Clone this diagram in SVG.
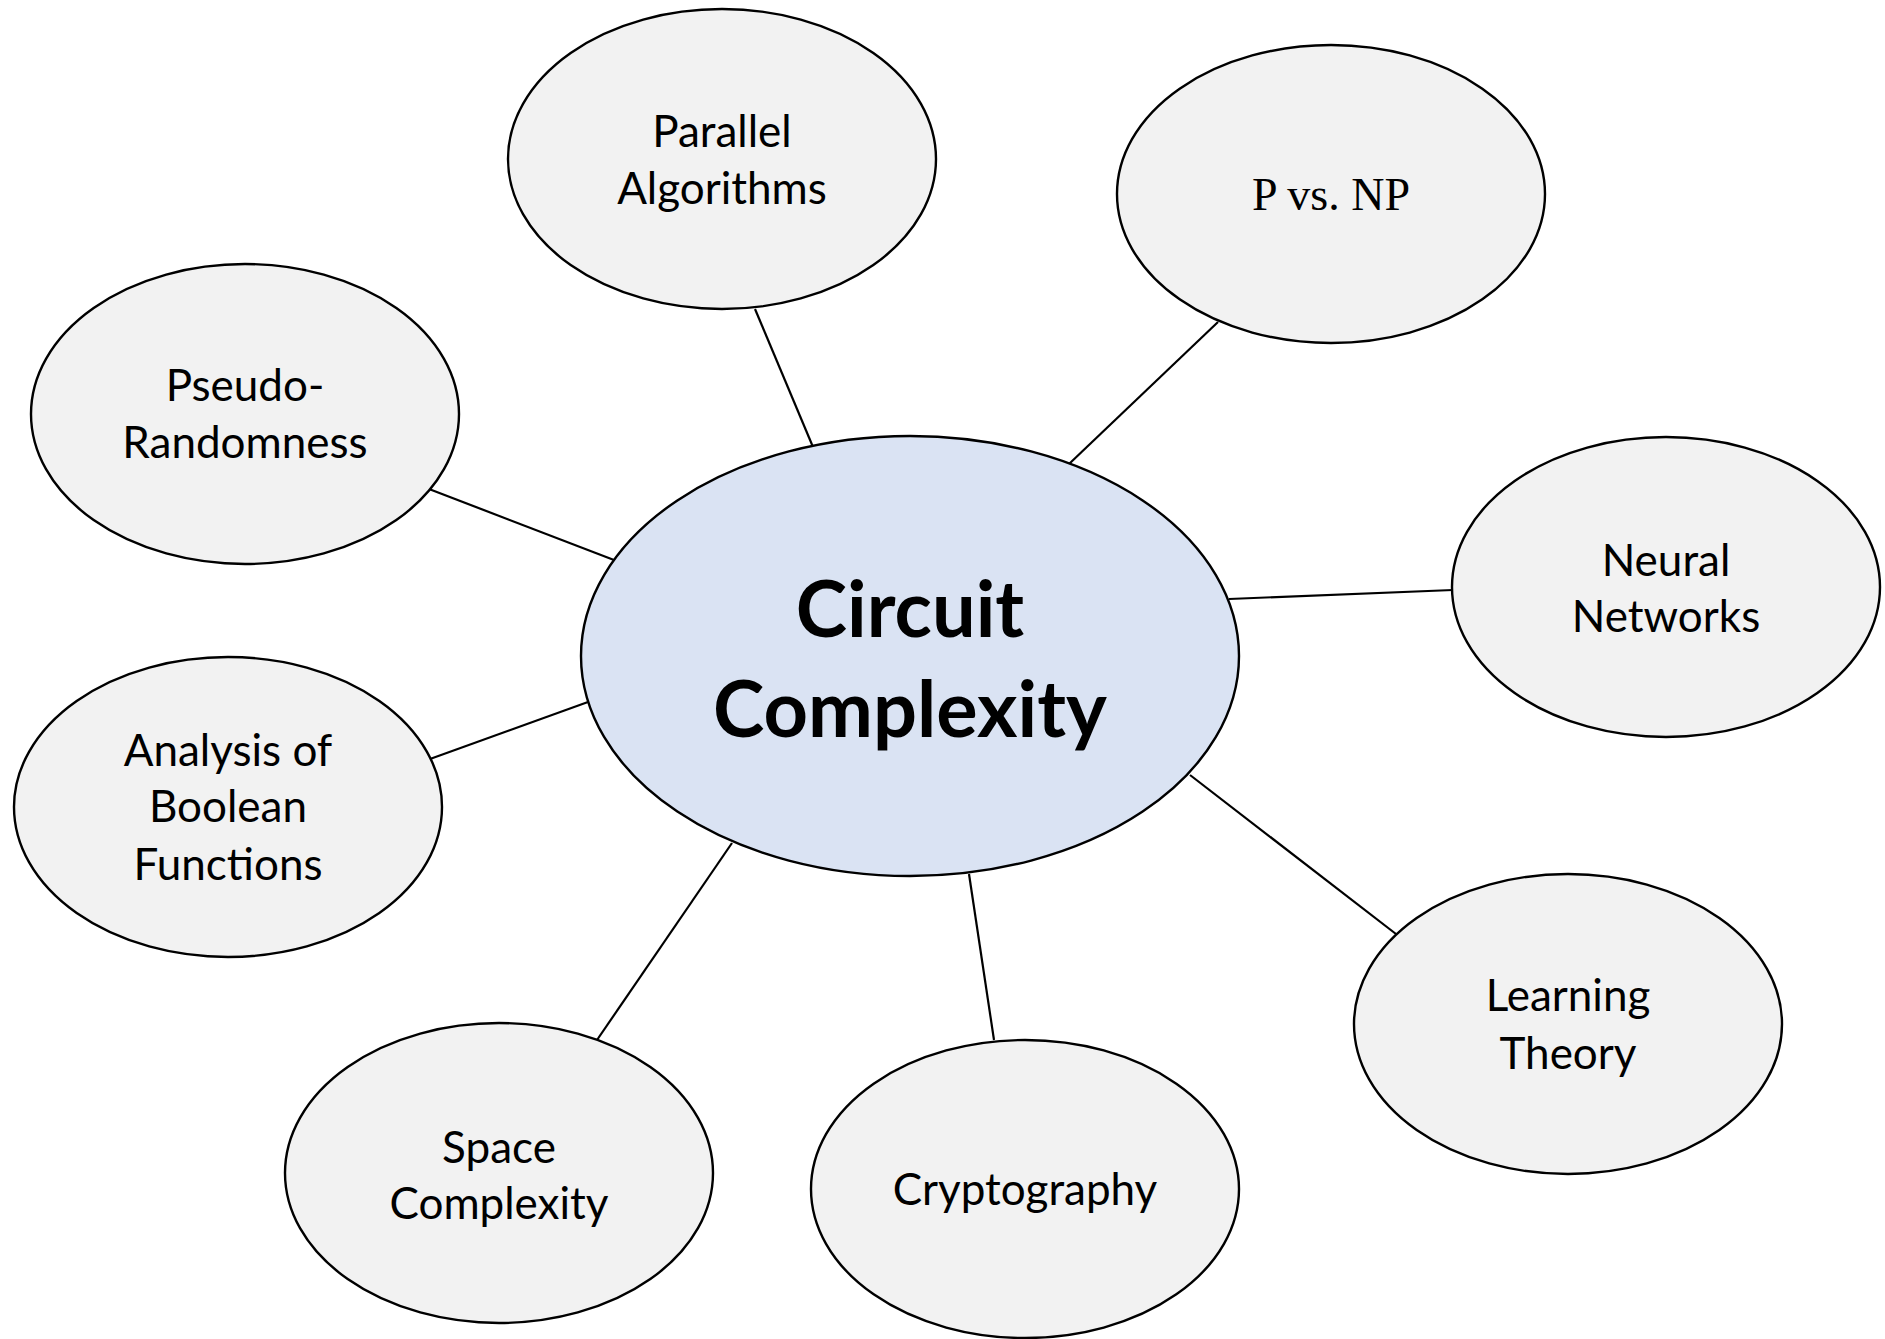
<svg xmlns="http://www.w3.org/2000/svg" width="1885" height="1339" viewBox="0 0 1885 1339">
  <style>
    .bubble { fill: #f2f2f2; stroke: #000; stroke-width: 2.4; }
    .hub { fill: #dae3f3; stroke: #000; stroke-width: 2.4; }
    .link { stroke: #000; stroke-width: 2.2; fill: none; }
    .lbl { font-family: Lato, "Open Sans", "Liberation Sans", sans-serif; font-size: 44px; fill: #000; text-anchor: middle; }
    .serif { font-family: "Liberation Serif", "DejaVu Serif", serif; font-size: 46px; fill: #000; text-anchor: middle; }
    .title { font-family: Lato, "Open Sans", "Liberation Sans", sans-serif; font-size: 77.5px; font-weight: bold; fill: #000; text-anchor: middle; }
  </style>
  <rect width="1885" height="1339" fill="#fff"/>

  <!-- spokes from the hub to each topic -->
  <g id="connectors">
    <line class="link" x1="755" y1="309" x2="813" y2="447"/>
    <line class="link" x1="1218" y1="322" x2="1069" y2="464"/>
    <line class="link" x1="429" y1="489" x2="614" y2="560"/>
    <line class="link" x1="1229" y1="599" x2="1453" y2="590"/>
    <line class="link" x1="430" y1="759" x2="588" y2="702"/>
    <line class="link" x1="1190" y1="775" x2="1396" y2="934"/>
    <line class="link" x1="732" y1="843" x2="597" y2="1040"/>
    <line class="link" x1="969" y1="874" x2="994" y2="1040"/>
  </g>

  <g id="hub">
    <ellipse class="hub" cx="910" cy="656" rx="329" ry="220"/>
    <text class="title" x="910" y="637">Circuit</text>
    <text class="title" x="910" y="737">Complexity</text>
  </g>

  <g id="parallel-algorithms">
    <ellipse class="bubble" cx="722" cy="159" rx="214" ry="150"/>
    <text class="lbl" x="722" y="147">Parallel</text>
    <text class="lbl" x="722" y="204">Algorithms</text>
  </g>

  <g id="p-vs-np">
    <ellipse class="bubble" cx="1331" cy="194" rx="214" ry="149"/>
    <text class="serif" x="1331" y="210">P vs. NP</text>
  </g>

  <g id="pseudo-randomness">
    <ellipse class="bubble" cx="245" cy="414" rx="214" ry="150"/>
    <text class="lbl" x="245" y="401">Pseudo-</text>
    <text class="lbl" x="245" y="458">Randomness</text>
  </g>

  <g id="neural-networks">
    <ellipse class="bubble" cx="1666" cy="587" rx="214" ry="150"/>
    <text class="lbl" x="1666" y="576">Neural</text>
    <text class="lbl" x="1666" y="632">Networks</text>
  </g>

  <g id="boolean-functions">
    <ellipse class="bubble" cx="228" cy="807" rx="214" ry="150"/>
    <text class="lbl" x="228" y="766">Analysis of</text>
    <text class="lbl" x="228" y="822">Boolean</text>
    <text class="lbl" x="228" y="880">Functions</text>
  </g>

  <g id="learning-theory">
    <ellipse class="bubble" cx="1568" cy="1024" rx="214" ry="150"/>
    <text class="lbl" x="1568" y="1011">Learning</text>
    <text class="lbl" x="1568" y="1069">Theory</text>
  </g>

  <g id="space-complexity">
    <ellipse class="bubble" cx="499" cy="1173" rx="214" ry="150"/>
    <text class="lbl" x="499" y="1163">Space</text>
    <text class="lbl" x="499" y="1219">Complexity</text>
  </g>

  <g id="cryptography">
    <ellipse class="bubble" cx="1025" cy="1189" rx="214" ry="149"/>
    <text class="lbl" x="1025" y="1205">Cryptography</text>
  </g>
</svg>
